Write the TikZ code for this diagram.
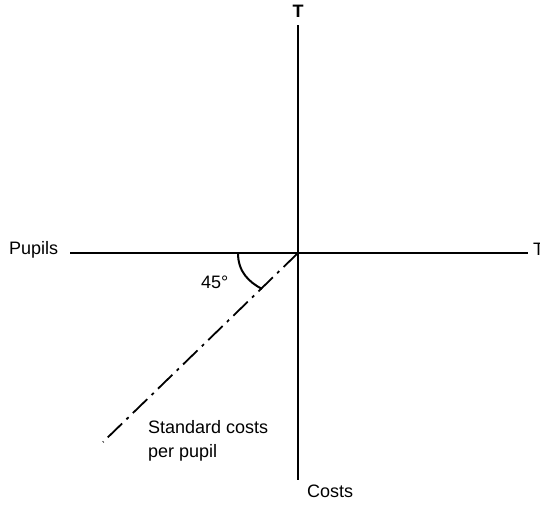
\documentclass[tikz,border=0pt]{standalone}
\usepackage{fontspec}
\setmainfont{Liberation Sans}
\usetikzlibrary{positioning, calc}

\begin{document}
\begin{tikzpicture}[
      x=1pt, y=-1pt,
      lbl/.style={inner sep=0pt, font=\fontsize{18}{24}\selectfont},
      axis/.style={line width=2.6pt},
      ratio/.style={line width=1.8pt, dash pattern=on 20pt off 6pt on 3pt off 6pt},
      angle/.style={line width=2pt}
    ]
    \useasboundingbox (0,0) rectangle (540,504);

    \coordinate (O) at (298,253);
    \coordinate (ytop) at (298,25);
    \coordinate (ybot) at (298,480);
    \coordinate (xleft) at (70,253);
    \coordinate (xright) at (528,253);
    \coordinate (send) at (103,442);
    \coordinate (a1) at (238,253);
    \coordinate (a2) at ($(O)+(-36,36)$);

    \node[lbl, anchor=base] (tT) at (298,17) {\bfseries T};
    \node[lbl, anchor=base west] (pup) at (9,254) {Pupils};
    \node[lbl, anchor=base west] (rT) at (533,255) {T};
    \node[lbl, anchor=base west] (costs) at (307,497) {Costs};
    \node[lbl, anchor=base west] (deg) at (201,288) {45°};
    \node[lbl, anchor=north west, align=left] (std) at (148,420.5) {Standard costs\\per pupil};

    \draw[axis] (ytop) -- (ybot);
    \draw[axis] (xleft) -- (xright);
    \draw[ratio] (O) -- (send);
    \draw[angle] (a1) .. controls (238,272) and (249,282) .. (a2);
  \end{tikzpicture}
\end{document}
